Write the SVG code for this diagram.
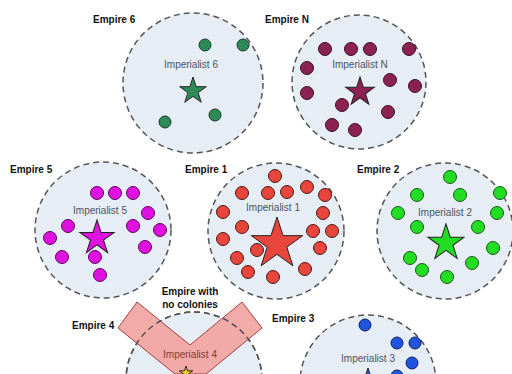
<svg xmlns="http://www.w3.org/2000/svg" width="512" height="374" viewBox="0 0 512 374">
<style>
.emp{fill:#e6edf5;stroke:#555;stroke-width:1.5;stroke-dasharray:6 4}
.ring{fill:none;stroke:#555;stroke-width:1.5;stroke-dasharray:6 4}
.lbl{font-family:"Liberation Sans",Arial,sans-serif;font-weight:bold;font-size:10px;fill:#111}
.imp{font-family:"Liberation Sans",Arial,sans-serif;font-size:10px;fill:#4a5560;text-anchor:middle}
.st{stroke:#222}
.c6 circle{fill:#2e8b57;stroke:#1a3a2a;stroke-width:1}
.cN circle{fill:#8b2252;stroke:#3a1020;stroke-width:1}
.c5 circle{fill:#e010e0;stroke:#5a0a5a;stroke-width:1}
.c1 circle{fill:#e8453c;stroke:#4a1a14;stroke-width:1}
.c2 circle{fill:#22dd22;stroke:#1a5a1a;stroke-width:1}
.c3 circle{fill:#2255dd;stroke:#10205a;stroke-width:1}
</style>
<defs>
<polygon id="star" points="0,-1 0.2245,-0.309 0.951,-0.309 0.363,0.118 0.588,0.809 0,0.382 -0.588,0.809 -0.363,0.118 -0.951,-0.309 -0.2245,-0.309"/>
</defs>
<rect width="512" height="374" fill="#fff"/>

<g id="empire6">
<circle class="emp" cx="193" cy="83" r="70"/>
<text class="lbl" x="93" y="23">Empire 6</text>
<text class="imp" x="191" y="68">Imperialist 6</text>
<use href="#star" class="st" fill="#2e8b57" stroke-width="0.07" transform="translate(193,91) scale(14)"/>
<g class="c6"><circle cx="205" cy="45" r="6"/><circle cx="243" cy="45" r="6"/><circle cx="215" cy="115" r="6"/><circle cx="165" cy="122" r="6"/></g>
</g>

<g id="empireN">
<circle class="emp" cx="359" cy="82" r="67"/>
<text class="lbl" x="265" y="23">Empire N</text>
<text class="imp" x="360" y="68">Imperialist N</text>
<use href="#star" class="st" fill="#8b2252" stroke-width="0.067" transform="translate(360,92) scale(15)"/>
<g class="cN"><circle cx="325" cy="49" r="6.5"/><circle cx="351" cy="49" r="6.5"/><circle cx="370" cy="49" r="6.5"/><circle cx="409" cy="49" r="6.5"/><circle cx="307" cy="68" r="6.5"/><circle cx="390" cy="80" r="6.5"/><circle cx="307" cy="93" r="6.5"/><circle cx="415" cy="86" r="6.5"/><circle cx="342" cy="105" r="6.5"/><circle cx="388" cy="112" r="6.5"/><circle cx="332" cy="125" r="6.5"/><circle cx="355" cy="130" r="6.5"/></g>
</g>

<g id="empire5">
<circle class="emp" cx="103" cy="230" r="68"/>
<text class="lbl" x="10" y="173">Empire 5</text>
<text class="imp" x="100" y="214">Imperialist 5</text>
<use href="#star" class="st" fill="#e010e0" stroke-width="0.056" transform="translate(97,238) scale(18)"/>
<g class="c5"><circle cx="97" cy="193" r="6.5"/><circle cx="115" cy="193" r="6.5"/><circle cx="133" cy="193" r="6.5"/><circle cx="148" cy="213" r="6.5"/><circle cx="68" cy="226" r="6.5"/><circle cx="133" cy="226" r="6.5"/><circle cx="160" cy="230" r="6.5"/><circle cx="50" cy="238" r="6.5"/><circle cx="145" cy="247" r="6.5"/><circle cx="62" cy="257" r="6.5"/><circle cx="95" cy="257" r="6.5"/><circle cx="100" cy="275" r="6.5"/></g>
</g>

<g id="empire1">
<circle class="emp" cx="276" cy="231" r="68"/>
<text class="lbl" x="185" y="173">Empire 1</text>
<text class="imp" x="273" y="211">Imperialist 1</text>
<use href="#star" class="st" fill="#e8453c" stroke-width="0.037" transform="translate(277,244) scale(27)"/>
<g class="c1"><circle cx="275" cy="176" r="6.5"/><circle cx="242" cy="193" r="6.5"/><circle cx="268" cy="193" r="6.5"/><circle cx="287" cy="192" r="6.5"/><circle cx="307" cy="187" r="6.5"/><circle cx="325" cy="195" r="6.5"/><circle cx="223" cy="212" r="6.5"/><circle cx="323" cy="213" r="6.5"/><circle cx="242" cy="227" r="6.5"/><circle cx="313" cy="231" r="6.5"/><circle cx="332" cy="231" r="6.5"/><circle cx="223" cy="239" r="6.5"/><circle cx="257" cy="250" r="6.5"/><circle cx="320" cy="248" r="6.5"/><circle cx="237" cy="258" r="6.5"/><circle cx="248" cy="272" r="6.5"/><circle cx="305" cy="269" r="6.5"/><circle cx="273" cy="277" r="6.5"/></g>
</g>

<g id="empire2">
<circle class="emp" cx="445" cy="231" r="68"/>
<text class="lbl" x="357" y="173">Empire 2</text>
<text class="imp" x="445" y="216">Imperialist 2</text>
<use href="#star" class="st" fill="#22dd22" stroke-width="0.053" transform="translate(446,243) scale(19)"/>
<g class="c2"><circle cx="450" cy="177" r="6.5"/><circle cx="417" cy="195" r="6.5"/><circle cx="460" cy="195" r="6.5"/><circle cx="500" cy="193" r="6.5"/><circle cx="398" cy="213" r="6.5"/><circle cx="497" cy="213" r="6.5"/><circle cx="417" cy="227" r="6.5"/><circle cx="478" cy="227" r="6.5"/><circle cx="493" cy="248" r="6.5"/><circle cx="410" cy="258" r="6.5"/><circle cx="472" cy="263" r="6.5"/><circle cx="422" cy="270" r="6.5"/><circle cx="447" cy="277" r="6.5"/></g>
</g>

<g id="empire3">
<circle class="emp" cx="368" cy="383" r="68"/>
<text class="lbl" x="272" y="322">Empire 3</text>
<text class="imp" x="368" y="362">Imperialist 3</text>
<use href="#star" class="st" fill="#2255dd" stroke-width="0.07" transform="translate(368,382) scale(14)"/>
<g class="c3"><circle cx="365" cy="325" r="6"/><circle cx="397" cy="343" r="6"/><circle cx="415" cy="343" r="6"/><circle cx="412" cy="363" r="6"/><circle cx="397" cy="376" r="6"/></g>
</g>

<g id="empire4">
<circle class="emp" cx="194" cy="380" r="68"/>
<polygon points="118,328 137,302 190,345 242,302 262,328 206,374 175,374" fill="#f2a29e" fill-opacity="0.9" stroke="#a04040" stroke-width="1"/>
<circle class="ring" cx="194" cy="380" r="68"/>
<text class="lbl" x="72" y="329">Empire 4</text>
<text class="imp" x="190" y="358" style="fill:#8a3a3a">Imperialist 4</text>
<use href="#star" class="st" fill="#f5d020" stroke-width="0.14" transform="translate(186,373) scale(7)"/>
<text class="lbl" x="190" y="295" text-anchor="middle">Empire with</text>
<text class="lbl" x="190" y="308" text-anchor="middle">no colonies</text>
</g>

<g id="connectors"></g>
</svg>
